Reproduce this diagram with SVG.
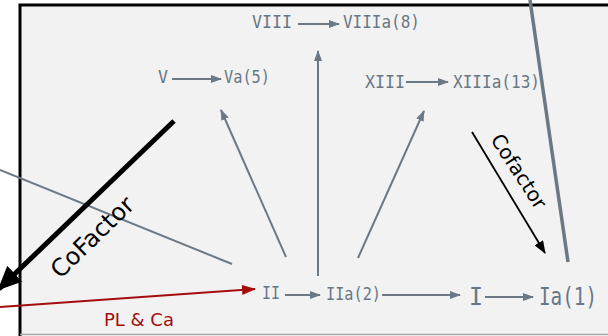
<svg xmlns="http://www.w3.org/2000/svg" width="608" height="336" viewBox="0 0 608 336">
<style>
.lbl{font-family:"DejaVu Sans Mono","Liberation Mono",monospace;fill:#687785;font-size:17.5px}
.g{stroke:#6b7886;stroke-width:2;fill:none}
.hand{font-family:"DejaVu Sans","Liberation Sans",sans-serif}
</style>
<defs>
<marker id="ag" markerUnits="userSpaceOnUse" markerWidth="11" markerHeight="8" refX="10" refY="4" orient="auto"><path d="M0,0 L11,4 L0,8 z" fill="#6b7886"/></marker>
<marker id="ar" markerUnits="userSpaceOnUse" markerWidth="14" markerHeight="10" refX="13" refY="5" orient="auto"><path d="M0,0 L14,5 L0,10 z" fill="#a30d0d"/></marker>
<marker id="ab" markerUnits="userSpaceOnUse" markerWidth="13" markerHeight="10" refX="12" refY="5" orient="auto"><path d="M0,0 L13,5 L0,10 z" fill="#000"/></marker>
<marker id="abig" markerUnits="userSpaceOnUse" markerWidth="24" markerHeight="22" refX="22" refY="11" orient="auto"><path d="M0,0 L24,11 L0,22 z" fill="#000"/></marker>
</defs>
<g id="frame">
<rect x="20" y="5" width="590" height="330" fill="#f2f2f2"/>
<path d="M20,336 V5 H608" fill="none" stroke="#000" stroke-width="3"/>
<line x1="20" y1="334.5" x2="608" y2="334.5" stroke="#a6a6a6" stroke-width="1.5"/>
</g>
<g id="connectors">
<line class="g" x1="172" y1="79" x2="221" y2="79" marker-end="url(#ag)"/>
<line class="g" x1="298" y1="24" x2="339" y2="24" marker-end="url(#ag)"/>
<line class="g" x1="406" y1="82" x2="448" y2="82" marker-end="url(#ag)"/>
<line class="g" x1="285" y1="295" x2="320" y2="295" marker-end="url(#ag)"/>
<line class="g" x1="382" y1="295" x2="460" y2="295" marker-end="url(#ag)"/>
<line class="g" x1="485" y1="297" x2="533" y2="297" marker-end="url(#ag)"/>
<line class="g" x1="286" y1="257" x2="221" y2="110" marker-end="url(#ag)"/>
<line class="g" x1="318" y1="276" x2="318" y2="51" marker-end="url(#ag)"/>
<line class="g" x1="358" y1="258" x2="424" y2="111" marker-end="url(#ag)"/>
<line class="g" x1="0" y1="170" x2="232" y2="264"/>
<line x1="530" y1="0" x2="568" y2="262" stroke="#6b7886" stroke-width="3.5"/>
<line x1="0" y1="307" x2="255" y2="289" stroke="#a30d0d" stroke-width="2" marker-end="url(#ar)"/>
<line x1="472" y1="132" x2="545" y2="253" stroke="#000" stroke-width="1.8" marker-end="url(#ab)"/>
<line x1="174" y1="121" x2="-1" y2="289" stroke="#000" stroke-width="5" marker-end="url(#abig)"/>
</g>
<g id="n-viii"><text class="lbl" x="252" y="28" textLength="40" lengthAdjust="spacingAndGlyphs">VIII</text></g>
<g id="n-viiia"><text class="lbl" x="343" y="28" textLength="77" lengthAdjust="spacingAndGlyphs">VIIIa(8)</text></g>
<g id="n-v"><text class="lbl" x="158" y="83" textLength="10" lengthAdjust="spacingAndGlyphs">V</text></g>
<g id="n-va"><text class="lbl" x="224" y="83" textLength="46" lengthAdjust="spacingAndGlyphs">Va(5)</text></g>
<g id="n-xiii"><text class="lbl" x="365" y="88" textLength="40" lengthAdjust="spacingAndGlyphs">XIII</text></g>
<g id="n-xiiia"><text class="lbl" x="453" y="88" textLength="87" lengthAdjust="spacingAndGlyphs">XIIIa(13)</text></g>
<g id="n-ii"><text class="lbl" x="262" y="299" textLength="18" lengthAdjust="spacingAndGlyphs">II</text></g>
<g id="n-iia"><text class="lbl" x="326" y="300" textLength="55" lengthAdjust="spacingAndGlyphs">IIa(2)</text></g>
<g id="n-i"><text class="lbl" x="469" y="305" style="font-size:24px" textLength="14" lengthAdjust="spacingAndGlyphs">I</text></g>
<g id="n-ia"><text class="lbl" x="539" y="305" style="font-size:24px" textLength="58" lengthAdjust="spacingAndGlyphs">Ia(1)</text></g>
<g id="labels">
<text class="hand" x="98" y="243" font-size="24" text-anchor="middle" fill="#000" transform="rotate(-44 98 243)">CoFactor</text>
<text class="hand" x="513" y="175" font-size="20" text-anchor="middle" fill="#000" transform="rotate(57 513 175)">Cofactor</text>
<text class="hand" x="104" y="326" font-size="18" fill="#a30d0d">PL &amp; Ca</text>
</g>
</svg>
